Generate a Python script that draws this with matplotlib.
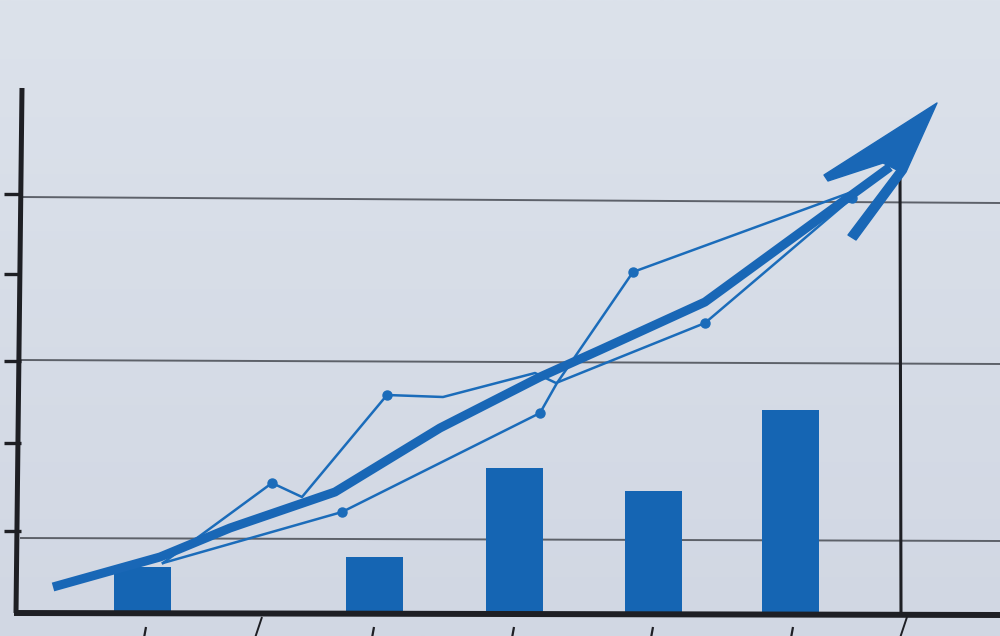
import matplotlib
matplotlib.use("Agg")
import matplotlib.pyplot as plt
import numpy as np
from matplotlib.patches import Polygon

# ---------------- data (chart units) ----------------
bar_x = [1.425, 3.74, 5.145, 6.535, 7.905]
bar_h = [0.45, 0.55, 1.44, 1.21, 2.02]

trend_x = [0.53, 1.60, 2.30, 3.35, 4.40, 5.40, 6.00, 7.05, 8.90]
trend_y = [0.25, 0.55, 0.84, 1.20, 1.84, 2.35, 2.62, 3.10, 4.45]
arrow_tip = (9.37, 5.09)

line_a_x = [1.63, 2.72, 3.02, 3.87, 4.43, 5.35, 5.56, 7.05, 8.52]
line_a_y = [0.49, 1.29, 1.15, 2.17, 2.15, 2.39, 2.29, 2.89, 4.14]
line_a_marked = [1, 3, 7, 8]

line_b_x = [1.63, 3.42, 5.40, 5.57, 6.33, 8.60]
line_b_y = [0.49, 1.00, 1.99, 2.29, 3.40, 4.23]
line_b_marked = [1, 2, 4]

grid_y_left = [4.15, 2.52, 0.74]
grid_y_right = [4.09, 2.48, 0.71]
ytick_y = [4.18, 3.38, 2.51, 1.69, 0.81]
xtick_x = [1.45, 3.73, 5.13, 6.52, 7.92]
xdiv_x = [2.58, 9.03]

# ---------------- style ----------------
PAPER_TOP = "#dce2eb"
PAPER_BOT = "#d1d7e3"
BLUE_BAR = "#1565b3"
BLUE_THICK = "#1967b6"
BLUE_THIN = "#1b6cba"
INK = "#1e1f24"
GRID = "#50545c"

fig = plt.figure(figsize=(10, 6.36), dpi=100)
ax = fig.add_axes([0, 0, 1, 1])
ax.set_xlim(0, 10)
ax.set_ylim(-0.24, 6.12)
ax.axis("off")

# paper background gradient
grad = np.linspace(0, 1, 256).reshape(-1, 1)
from matplotlib.colors import LinearSegmentedColormap
cmap = LinearSegmentedColormap.from_list("paper", [PAPER_TOP, PAPER_BOT])
ax.imshow(grad, extent=(0, 10, -0.24, 6.12), aspect="auto", cmap=cmap,
          origin="upper", zorder=0)

# gridlines (slightly tilted, hand-ruled)
for yl, yr in zip(grid_y_left, grid_y_right):
    ax.plot([0.2, 10], [yl, yr], color=GRID, lw=1.4, alpha=0.9, zorder=1,
            solid_capstyle="butt")

# bars
ax.bar(bar_x, bar_h, width=0.57, bottom=0, color=BLUE_BAR, zorder=3,
       linewidth=0)

# axes lines
ax.plot([0.22, 0.16], [5.24, -0.01], color=INK, lw=3.6, zorder=4,
        solid_capstyle="butt")
ax.plot([0.14, 10], [-0.01, -0.03], color=INK, lw=4.3, zorder=4,
        solid_capstyle="butt")
ax.plot([9.00, 9.01], [4.44, -0.02], color=INK, lw=2.2, zorder=4,
        solid_capstyle="butt")

# y ticks
for y in ytick_y:
    ax.plot([0.04, 0.21], [y, y], color=INK, lw=2.4, zorder=4,
            solid_capstyle="butt")

# x ticks below axis
for x in xtick_x:
    ax.plot([x + 0.01, x - 0.01], [-0.15, -0.26], color=INK, lw=1.6, zorder=4,
            solid_capstyle="butt")
for x in xdiv_x:
    ax.plot([x + 0.04, x - 0.03], [-0.05, -0.26], color=INK, lw=1.4, zorder=4,
            solid_capstyle="butt")

# thin lines with dots
ax.plot(line_a_x, line_a_y, color=BLUE_THIN, lw=1.8, zorder=5,
        solid_joinstyle="round")
ax.plot([line_a_x[i] for i in line_a_marked], [line_a_y[i] for i in line_a_marked],
        "o", color=BLUE_THIN, ms=6.5, zorder=5)
ax.plot(line_b_x, line_b_y, color=BLUE_THIN, lw=1.8, zorder=5,
        solid_joinstyle="round")
ax.plot([line_b_x[i] for i in line_b_marked], [line_b_y[i] for i in line_b_marked],
        "o", color=BLUE_THIN, ms=6.5, zorder=5)

# thick trend line
ax.plot(trend_x, trend_y, color=BLUE_THICK, lw=6.5, zorder=6,
        solid_joinstyle="round", solid_capstyle="butt")

# arrowhead (shape offsets relative to the tip)
head_offsets = np.array([(0, 0), (-1.13, -0.72), (-1.09, -0.78), (-0.54, -0.60),
                         (-0.40, -0.67), (-0.89, -1.32), (-0.81, -1.37),
                         (-0.31, -0.69)])
head = head_offsets + np.array(arrow_tip)
ax.add_patch(Polygon(head, closed=True, facecolor=BLUE_THICK,
                     edgecolor=BLUE_THICK, lw=1.0, joinstyle="round", zorder=7))

fig.savefig("out.png", dpi=100)
